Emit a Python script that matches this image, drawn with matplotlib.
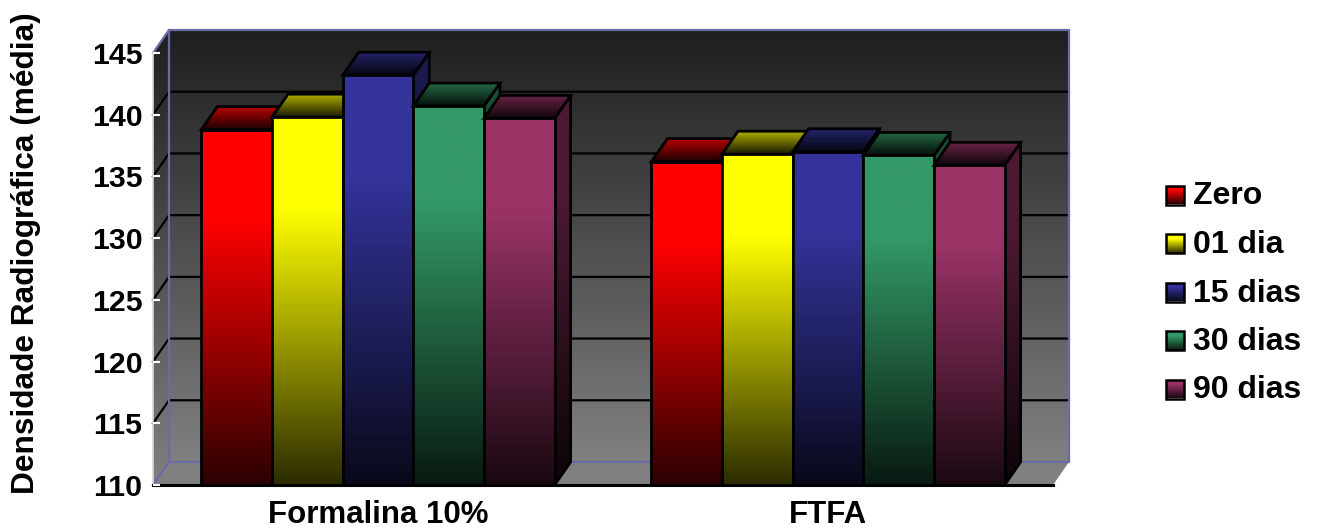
import numpy as np
import matplotlib
matplotlib.use("Agg")
import matplotlib.pyplot as plt
from matplotlib.colors import LinearSegmentedColormap
from matplotlib.patches import Polygon

plt.rcParams["font.family"] = ["Liberation Sans", "DejaVu Sans"]
plt.rcParams["font.weight"] = "bold"

CATEGORIES = ["Formalina 10%", "FTFA"]
SERIES = ["Zero", "01 dia", "15 dias", "30 dias", "90 dias"]
ZERO = [138.8, 136.2]
DIA_01 = [139.8, 136.8]
DIAS_15 = [143.2, 137.0]
DIAS_30 = [140.7, 136.7]
DIAS_90 = [139.7, 135.9]
TICKS = [110, 115, 120, 125, 130, 135, 140, 145]
COLORS = ["#ff0000", "#ffff00", "#333399", "#339966", "#993366"]

Y_MIN = 110
Y_MAX = 145
DX = 16 / 450      # depth offset, category units
DY = 23 / 12.34    # depth offset, value units
BAR_W = 0.157
WALL_COL = "#6a6aa8"


def shade(color, stops):
    rgb = np.array(matplotlib.colors.to_rgb(color))
    return LinearSegmentedColormap.from_list("s", [(p, tuple(rgb * f)) for p, f in stops])


def gradient(ax, pts, cmap, zorder, edge="black", lw=2.0):
    # vertical gradient clipped to a polygon
    pts = np.array(pts)
    ext = (pts[:, 0].min(), pts[:, 0].max(), pts[:, 1].min(), pts[:, 1].max())
    grad = np.linspace(0, 1, 256).reshape(-1, 1)
    im = ax.imshow(grad, extent=ext, cmap=cmap, aspect="auto", origin="upper",
                   vmin=0, vmax=1, zorder=zorder, interpolation="bilinear")
    clip = Polygon(pts, closed=True, transform=ax.transData)
    im.set_clip_box(ax.figure.bbox)
    im.set_clip_path(clip)
    if edge is not None:
        ax.add_patch(Polygon(pts, closed=True, fill=False, edgecolor=edge, linewidth=lw,
                             joinstyle="miter", zorder=zorder + 0.1, clip_on=False))


def draw_bar(ax, x, val, color, zorder):
    x2 = x + BAR_W
    front = [(x, Y_MIN), (x2, Y_MIN), (x2, val), (x, val)]
    top = [(x, val), (x2, val), (x2 + DX, val + DY), (x + DX, val + DY)]
    side = [(x2, Y_MIN), (x2 + DX, Y_MIN + DY), (x2 + DX, val + DY), (x2, val)]
    gradient(ax, side, shade(color, [(0, 0.5), (0.25, 0.5), (1, 0.08)]), zorder)
    gradient(ax, top, shade(color, [(0, 0.72), (1, 0.1)]), zorder + 0.2)
    gradient(ax, front, shade(color, [(0, 1), (0.25, 1), (1, 0.17)]), zorder + 0.4)


def draw_walls(ax):
    x_max = len(CATEGORIES)
    back = [(DX, Y_MIN + DY), (x_max + DX, Y_MIN + DY), (x_max + DX, Y_MAX + DY), (DX, Y_MAX + DY)]
    left = [(0, Y_MIN), (DX, Y_MIN + DY), (DX, Y_MAX + DY), (0, Y_MAX)]
    floor = [(0, Y_MIN), (x_max, Y_MIN), (x_max + DX, Y_MIN + DY), (DX, Y_MIN + DY)]
    wall_cmap = LinearSegmentedColormap.from_list("w", ["#1e1e1e", "#808080"])
    gradient(ax, back, wall_cmap, 0.5, edge=None)
    gradient(ax, left, wall_cmap, 0.5, edge=None)
    ax.add_patch(Polygon(floor, closed=True, facecolor="#808080", edgecolor="none",
                         zorder=0.6, clip_on=False))
    for t in TICKS[1:-1]:
        ax.plot([0, DX, x_max + DX], [t, t + DY, t + DY], color="black", lw=1.6,
                zorder=0.8, clip_on=False)
    ax.plot([0, DX, DX, 0], [Y_MAX, Y_MAX + DY, Y_MIN + DY, Y_MIN], color=WALL_COL, lw=1.6,
            zorder=0.9, clip_on=False)
    ax.plot([DX, x_max + DX, x_max + DX, DX], [Y_MAX + DY, Y_MAX + DY, Y_MIN + DY, Y_MIN + DY],
            color=WALL_COL, lw=1.6, zorder=0.9, clip_on=False)


def main():
    fig = plt.figure(figsize=(13.17, 5.28), dpi=100)
    ax = fig.add_axes([153 / 1317, 43 / 528, 900 / 1317, 432 / 528])
    ax.set_facecolor("none")

    draw_walls(ax)

    values = [ZERO, DIA_01, DIAS_15, DIAS_30, DIAS_90]
    for c in range(len(CATEGORIES)):
        start = c + 0.5 - BAR_W * len(SERIES) / 2
        for s, vals in enumerate(values):
            draw_bar(ax, start + s * BAR_W, vals[c], COLORS[s], 3 + c * 5 + s)

    ax.set_xlim(0, len(CATEGORIES))
    ax.set_ylim(Y_MIN, Y_MAX)
    ax.set_xticks([i + 0.5 for i in range(len(CATEGORIES))])
    ax.set_xticklabels(CATEGORIES, fontsize=22.5, fontweight="bold")
    ax.set_yticks(TICKS)
    ax.set_yticklabels([str(t) for t in TICKS], fontsize=21.8, fontweight="bold")
    ax.tick_params(axis="x", length=0, pad=10.5)
    ax.tick_params(axis="y", length=5, width=1.5, direction="in", color="white", pad=7.5)
    ax.set_axisbelow(False)
    for name in ["top", "right"]:
        ax.spines[name].set_visible(False)
    ax.spines["left"].set_color("#d8d8d8")
    ax.spines["left"].set_linewidth(1.2)
    ax.spines["bottom"].set_color("black")
    ax.spines["bottom"].set_linewidth(2.2)
    ax.set_ylabel("Densidade Radiográfica (média)", fontsize=22.8, fontweight="bold")
    ax.yaxis.set_label_coords(-0.124, 0.537)

    # legend with gradient swatches
    leg = fig.add_axes([0, 0, 1, 1])
    leg.axis("off")
    leg.set_facecolor("none")
    leg_y = 528 - np.linspace(195, 389, len(SERIES))
    for name, color, y in zip(SERIES, COLORS, leg_y):
        box = [(1165.5, y - 9.5), (1184, y - 9.5), (1184, y + 9.5), (1165.5, y + 9.5)]
        gradient(leg, box, shade(color, [(0, 1), (0.25, 1), (1, 0.17)]), 3, lw=1.8)
        leg.text(1193, y - 1.5, name, fontsize=23, fontweight="bold", va="center", ha="left")
    leg.set_xlim(0, 1317)
    leg.set_ylim(0, 528)

    fig.savefig("out.png", dpi=100)
    plt.close(fig)


if __name__ == "__main__":
    main()
